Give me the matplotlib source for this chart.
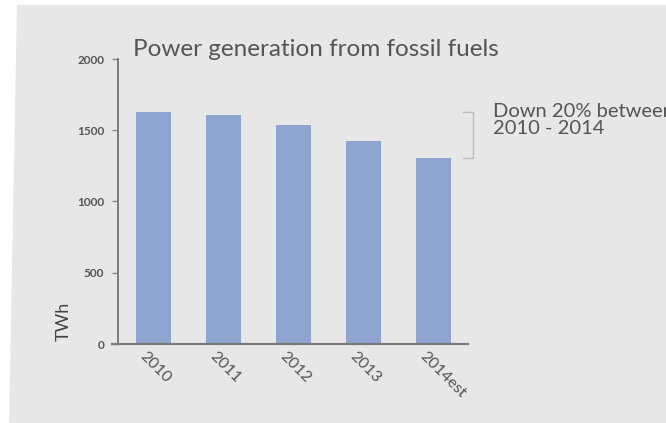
import matplotlib.pyplot as plt
import matplotlib.patches as mpatches
import matplotlib.transforms as mtransforms

# data
years = ['2010', '2011', '2012', '2013', '2014est']
twh = [1627, 1608, 1534, 1422, 1305]
yticks = [0, 500, 1000, 1500, 2000]

title = 'Power generation from fossil fuels'
note = 'Down 20% between\n2010 - 2014'

plt.rcParams['font.family'] = ['Lato', 'DejaVu Sans']

bar_color = '#8ea4d1'
bg = '#e7e7e7'
txt = '#555555'

fig = plt.figure(figsize=(6.66, 4.23), dpi=100)
fig.patch.set_facecolor('white')

# grey slide area behind the chart (photo of a slide)
W, H = 666, 423
poly = [(17 / W, 1 - 5 / H), (1, 1 - 5 / H), (1, 0), (9 / W, 0)]
fig.patches.append(mpatches.Polygon(poly, closed=True, transform=fig.transFigure,
                                    facecolor=bg, edgecolor='none', zorder=-5))

ax = fig.add_axes([112 / W, 79 / H, 356 / W, 285 / H])
ax.set_zorder(2)
ax.set_facecolor('none')

x = list(range(len(years)))
ax.bar(x, twh, width=0.49, color=bar_color, zorder=2)

ax.set_xlim(-0.593, 4.493)
ax.set_ylim(0, 2000)

for s in ['top', 'right']:
    ax.spines[s].set_visible(False)
ax.spines['left'].set_position(('data', -0.507))
ax.spines['left'].set_color('#7a7a7a')
ax.spines['left'].set_linewidth(1.4)
ax.spines['bottom'].set_color('#7a7a7a')
ax.spines['bottom'].set_linewidth(1.6)

ax.set_yticks(yticks)
ax.set_yticklabels([str(v) for v in yticks], fontsize=8.5, color=txt, fontweight='bold')
ax.tick_params(axis='y', length=4, width=1, color='#888888', pad=6)

ax.set_xticks(x)
ax.set_xticklabels(years, rotation=-45, ha='left', va='top', rotation_mode='anchor',
                   fontsize=11.5, color=txt)
ax.tick_params(axis='x', length=0, pad=4)
for lab in ax.get_xticklabels():
    lab.set_transform(lab.get_transform() + mtransforms.ScaledTranslation(-7 / 100, 0, fig.dpi_scale_trans))

ax.set_ylabel('TWh', fontsize=13, color='#444444')
ax.yaxis.set_label_coords(-0.112, 0.08)

fig.text(133 / W, 1 - 56 / H, title, fontsize=17.5, color=txt, ha='left', va='baseline')

# bracket marking the drop between first and last year
tr = mtransforms.blended_transform_factory(ax.transAxes, ax.transData)
bx = 1.014
ax.plot([bx - 0.028, bx, bx, bx - 0.028], [twh[0], twh[0], twh[-1], twh[-1]],
        color='#bdbdbd', lw=1, transform=tr, clip_on=False)

fig.text(493 / W, 1 - 103 / H, note, fontsize=14.5, color=txt, ha='left', va='top',
         linespacing=0.98)

fig.savefig('out.png', dpi=100, facecolor=fig.get_facecolor())
